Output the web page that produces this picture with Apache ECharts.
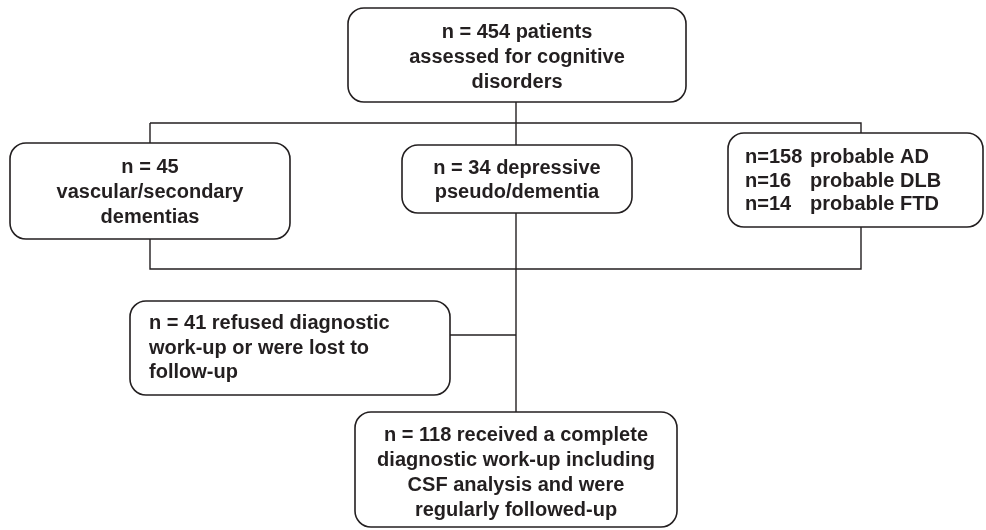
<!DOCTYPE html>
<html>
<head>
<meta charset="utf-8">
<script src="https://cdn.jsdelivr.net/npm/echarts@6/dist/echarts.min.js"></script>
<style>html,body{margin:0;padding:0;background:#fff;}#c{width:986px;height:530px;}</style>
</head>
<body>
<div id="c"></div>
<script>
// ---- content ----
const topText = ['n = 454 patients', 'assessed for cognitive', 'disorders'];
const vascularText = ['n = 45', 'vascular/secondary', 'dementias'];
const depressiveText = ['n = 34 depressive', 'pseudo/dementia'];
const probableCounts = ['n=158', 'n=16', 'n=14'];
const probableLabels = ['probable AD', 'probable DLB', 'probable FTD'];
const refusedText = ['n = 41 refused diagnostic', 'work-up or were lost to', 'follow-up'];
const completeText = ['n = 118 received a complete', 'diagnostic work-up including', 'CSF analysis and were', 'regularly followed-up'];

// ---- layout ----
const INK = '#231f20';
const FONT = 'bold 20px "Liberation Sans", Arial, sans-serif';
const boxes = {
  top:      {x: 348, y: 8,   w: 338, h: 94},
  vascular: {x: 10,  y: 143, w: 280, h: 96},
  depress:  {x: 402, y: 145, w: 230, h: 68},
  probable: {x: 728, y: 133, w: 255, h: 94},
  refused:  {x: 130, y: 301, w: 320, h: 94},
  complete: {x: 355, y: 412, w: 322, h: 115}
};
const spineX = 516;

function box(b) {
  return {type: 'rect', shape: {x: b.x, y: b.y, width: b.w, height: b.h, r: 16},
    style: {fill: '#fff', stroke: INK, lineWidth: 1.6}, z: 2};
}
function centeredText(b, lines, lh, dy) {
  return {type: 'text', x: b.x + b.w / 2, y: b.y + b.h / 2 + (dy || 0), z: 3,
    style: {text: lines.join('\n'), font: FONT, fill: INK, align: 'center', verticalAlign: 'middle', lineHeight: lh}};
}
function leftText(x, b, lines, lh, dy) {
  return {type: 'text', x: x, y: b.y + b.h / 2 + (dy || 0), z: 3,
    style: {text: lines.join('\n'), font: FONT, fill: INK, align: 'left', verticalAlign: 'middle', lineHeight: lh}};
}
function line(points) {
  return {type: 'polyline', shape: {points: points}, style: {stroke: INK, lineWidth: 1.4, fill: null}, z: 1};
}

const elements = [
  line([[spineX, boxes.top.y + boxes.top.h], [spineX, boxes.complete.y]]),
  line([[150, 123], [861, 123], [861, 269], [150, 269], [150, 123]]),
  line([[boxes.refused.x + boxes.refused.w, 335], [spineX, 335]]),
  box(boxes.top), centeredText(boxes.top, topText, 25, 2),
  box(boxes.vascular), centeredText(boxes.vascular, vascularText, 25, 1),
  box(boxes.depress), centeredText(boxes.depress, depressiveText, 24, 1),
  box(boxes.probable),
  leftText(745, boxes.probable, probableCounts, 23.5, 1),
  leftText(810, boxes.probable, probableLabels, 23.5, 1),
  box(boxes.refused), leftText(149, boxes.refused, refusedText, 24.5),
  box(boxes.complete), centeredText(boxes.complete, completeText, 25, 3)
];

const chart = echarts.init(document.getElementById('c'), null, {renderer: 'canvas'});
chart.setOption({
  backgroundColor: '#fff',
  animation: false,
  graphic: {elements: elements}
});
</script>
</body>
</html>
